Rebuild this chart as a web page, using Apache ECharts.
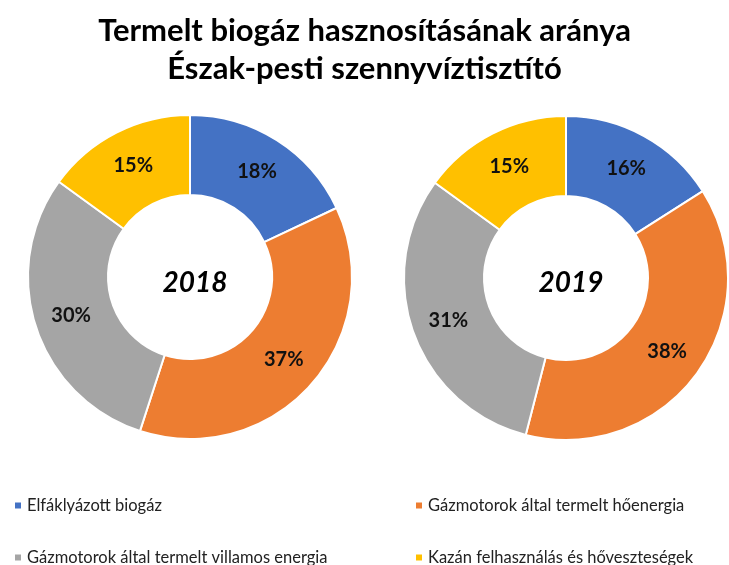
<!DOCTYPE html>
<html>
<head>
<meta charset="utf-8">
<script src="https://cdn.jsdelivr.net/npm/echarts@6/dist/echarts.min.js"></script>
<style>
  html, body { margin: 0; padding: 0; background: #fff; }
  #chart { width: 729px; height: 565px; }
</style>
</head>
<body>
<div id="chart"></div>
<script>
// kategóriák és értékek (%)
const categories = [
  'Elfáklyázott biogáz',
  'Gázmotorok által termelt hőenergia',
  'Gázmotorok által termelt villamos energia',
  'Kazán felhasználás és hőveszteségek'
];
const years = ['2018', '2019'];
const values2018 = [18, 37, 30, 15];
const values2019 = [16, 38, 31, 15];
const colors = ['#4472C4', '#ED7D31', '#A5A5A5', '#FFC000'];

const FONT = 'Lato, "Liberation Sans", sans-serif';

const chart = echarts.init(document.getElementById('chart'));

function donut(values, center) {
  return {
    type: 'pie',
    radius: [82, 162],
    center: center,
    startAngle: 90,
    clockwise: true,
    animation: false,
    avoidLabelOverlap: false,
    itemStyle: { borderColor: '#fff', borderWidth: 2 },
    label: {
      show: true,
      position: 'inside',
      formatter: '{c}%',
      color: '#111',
      fontFamily: FONT,
      fontWeight: 'bold',
      fontSize: 20
    },
    labelLine: { show: false },
    emphasis: { disabled: true },
    data: categories.map((name, i) => ({ name, value: values[i] }))
  };
}

// egy elemes jelmagyarázatok a 2x2-es elrendezéshez
const legendPos = [[8, 492], [409, 492], [8, 544], [409, 544]];
const legends = categories.map((name, i) => ({
  data: [name],
  left: legendPos[i][0],
  top: legendPos[i][1],
  itemWidth: 8, itemHeight: 8, icon: 'rect',
  selectedMode: false,
  textStyle: { color: '#222', fontFamily: FONT, fontSize: 16.5 }
}));

chart.setOption({
  color: colors,
  title: [
    {
      text: 'Termelt biogáz hasznosításának aránya\nÉszak-pesti szennyvíztisztító',
      left: 'center',
      top: 7,
      textStyle: { fontFamily: FONT, fontWeight: 'bold', fontSize: 31, lineHeight: 38, color: '#000' }
    },
    {
      text: years[0], left: 190, top: 278, textAlign: 'center', textVerticalAlign: 'middle',
      textStyle: { fontFamily: FONT, fontWeight: 'bold', fontStyle: 'italic', fontSize: 28, color: '#000' }
    },
    {
      text: years[1], left: 566, top: 278, textAlign: 'center', textVerticalAlign: 'middle',
      textStyle: { fontFamily: FONT, fontWeight: 'bold', fontStyle: 'italic', fontSize: 28, color: '#000' }
    }
  ],
  legend: legends,
  series: [
    donut(values2018, [190, 277]),
    donut(values2019, [566, 278])
  ]
});
</script>
</body>
</html>
